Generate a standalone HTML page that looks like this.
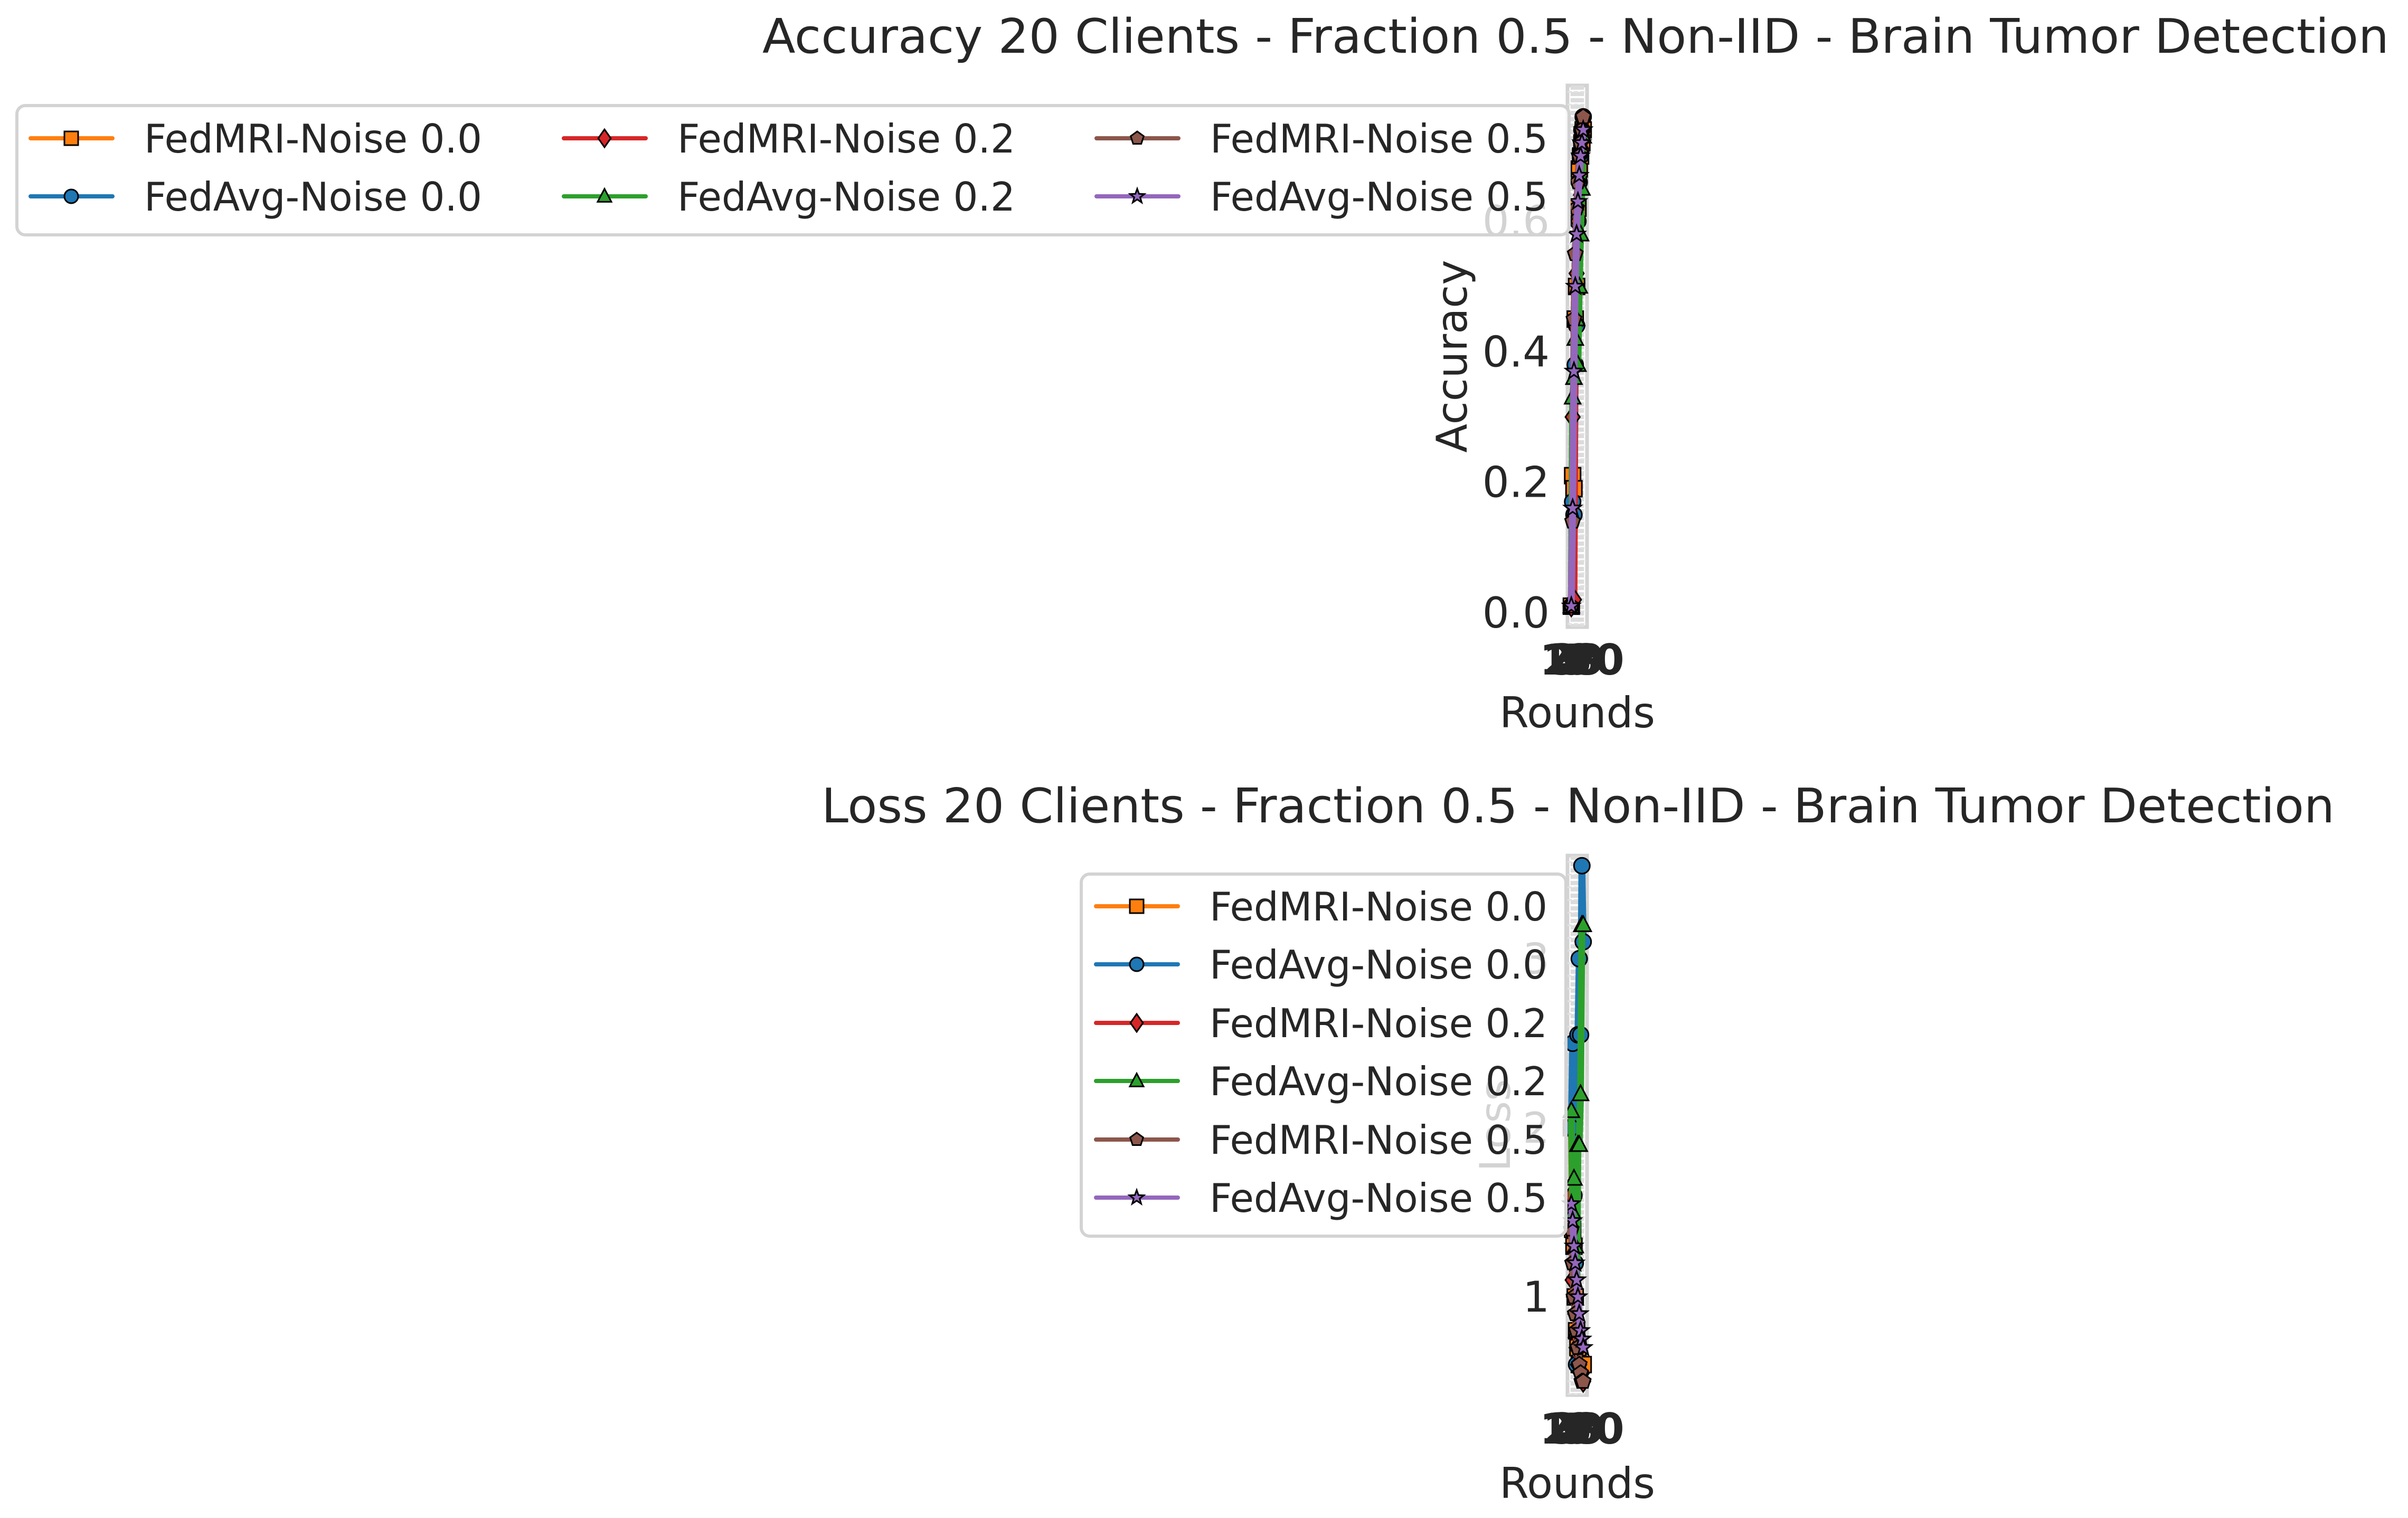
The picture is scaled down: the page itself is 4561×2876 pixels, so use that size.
<!DOCTYPE html>
<html><head><meta charset="utf-8"><style>
html,body{margin:0;padding:0;background:#fff}
svg{display:block}
text{font-family:"DejaVu Sans","Liberation Sans",sans-serif;fill:#262626}
</style></head><body>
<svg id="fig" width="4561" height="2876" viewBox="0 0 4561 2876" xmlns="http://www.w3.org/2000/svg">
<rect width="4561" height="2876" fill="#fff"/>
<g id="accTop"></g>
<g id="lossBot"></g>
</svg>
<script>
const rounds = [1,2,3,4,5,6,7,8,9,10];
const seriesNames = ["FedMRI-Noise 0.0","FedAvg-Noise 0.0","FedMRI-Noise 0.2","FedAvg-Noise 0.2","FedMRI-Noise 0.5","FedAvg-Noise 0.5"];
const accFedMRI00 = [0.01,0.21,0.19,0.45,0.50,0.62,0.68,0.70,0.72,0.74];
const accFedAvg00 = [0.01,0.17,0.15,0.38,0.44,0.60,0.66,0.70,0.74,0.76];
const accFedMRI02 = [0.01,0.30,0.02,0.44,0.52,0.60,0.66,0.70,0.71,0.73];
const accFedAvg02 = [0.01,0.33,0.36,0.42,0.45,0.38,0.50,0.58,0.65,0.73];
const accFedMRI05 = [0.01,0.14,0.45,0.55,0.62,0.66,0.70,0.72,0.74,0.76];
const accFedAvg05 = [0.01,0.16,0.37,0.50,0.58,0.63,0.67,0.70,0.72,0.74];
const lossFedMRI00 = [2.0,1.4,1.3,1.0,0.8,0.7,0.6,0.6,0.6,0.6];
const lossFedAvg00 = [2.0,2.5,1.6,1.2,0.6,2.55,3.0,2.55,3.55,3.1];
const lossFedMRI02 = [1.6,1.1,1.0,0.9,0.7,0.6,0.6,0.55,0.55,0.5];
const lossFedAvg02 = [2.1,1.5,1.7,1.3,0.8,1.9,1.9,2.2,3.2,3.2];
const lossFedMRI05 = [1.4,1.2,1.0,0.9,0.8,0.7,0.6,0.55,0.5,0.5];
const lossFedAvg05 = [1.55,1.45,1.3,1.2,1.1,1.0,0.9,0.8,0.75,0.7];
const accTicks = [0.0,0.2,0.4,0.6];
const accTickLabels = ["0.0","0.2","0.4","0.6"];
const lossTicks = [1,2,3];
const lossTickLabels = ["1","2","3"];
const xTickLabels = ["1","2","3","4","5","6","7","8","9","10"];

const colors = ["#ff7f0e","#1f77b4","#d62728","#2ca02c","#8c564b","#9467bd"];
const markers = ["s","o","D","^","p","*"];
const NS="http://www.w3.org/2000/svg";
function mk(tag, attrs, parent){const e=document.createElementNS(NS,tag);for(const k in attrs)e.setAttribute(k,attrs[k]);parent.appendChild(e);return e;}

function marker(g,type,cx,cy,r,color){
  let e;
  if(type==="s"){e=mk("rect",{x:cx-r,y:cy-r,width:2*r,height:2*r},g);}
  else if(type==="o"){e=mk("circle",{cx:cx,cy:cy,r:r},g);}
  else if(type==="D"){const s=r*1.3;e=mk("polygon",{points:`${cx},${cy-s} ${cx+s*0.7},${cy} ${cx},${cy+s} ${cx-s*0.7},${cy}`},g);}
  else if(type==="^"){e=mk("polygon",{points:`${cx},${cy-r*1.1} ${cx+r},${cy+r*0.8} ${cx-r},${cy+r*0.8}`},g);}
  else if(type==="p"){let p=[];for(let i=0;i<5;i++){const a=-Math.PI/2+i*2*Math.PI/5;p.push((cx+r*Math.cos(a))+","+(cy+r*Math.sin(a)));}e=mk("polygon",{points:p.join(" ")},g);}
  else {let p=[];for(let i=0;i<10;i++){const a=-Math.PI/2+i*Math.PI/5;const rr=i%2?r*0.45:r*1.1;p.push((cx+rr*Math.cos(a))+","+(cy+rr*Math.sin(a)));}e=mk("polygon",{points:p.join(" ")},g);}
  e.setAttribute("fill",color);e.setAttribute("stroke","#000");e.setAttribute("stroke-width","3");
  
  
  return e;
}

function drawChart(g, cfg){
  const {L,R,T,B,ymin,ymax,data,ticks,tickLabels,title,titleY,titleX1,titleX2,ylabel,ylabelX,xTickY,xLabelY,mr,lw} = cfg;
  const xmin=0.5,xmax=rounds.length+0.5;
  const xs=v=>L+6+(v-xmin)/(xmax-xmin)*(R-L-12);
  const ys=v=>B-(v-ymin)/(ymax-ymin)*(B-T);
  const t=mk("text",{x:titleX1,y:titleY,"font-size":90,textLength:titleX2-titleX1,lengthAdjust:"spacingAndGlyphs"},g);
  t.textContent=title;
  
  
  const bg=mk("rect",{x:L,y:T,width:R-L,height:B-T,fill:"#fff",stroke:"#d3d3d3","stroke-width":7},g);
  
  
  for(let i=0;i<rounds.length;i++){
    const gl=mk("line",{x1:xs(rounds[i]),x2:xs(rounds[i]),y1:T,y2:B,stroke:"#dcdcdc","stroke-width":3,"stroke-dasharray":"8 4"},g);
    
    
  }
  for(let y=T+12;y<B;y+=24){
    const gl=mk("line",{x1:L,x2:R,y1:y,y2:y,stroke:"#e2e2e2","stroke-width":3,"stroke-dasharray":"8 4"},g);
    
    
  }
  for(let i=0;i<ticks.length;i++){
    const tt=mk("text",{x:L-34,y:ys(ticks[i])+28,"font-size":80,"text-anchor":"end"},g);
    tt.textContent=tickLabels[i];
    
    
  }
  for(let i=0;i<rounds.length;i++){
    const tx=L-25+(i/(rounds.length-1))*(R-L+40);
    const tt=mk("text",{x:tx,y:xTickY,"font-size":80,"text-anchor":"middle","font-weight":"bold"},g);
    tt.textContent=xTickLabels[i];
    
    
  }
  const xl=mk("text",{x:(L+R)/2,y:xLabelY,"font-size":80,"text-anchor":"middle"},g);
  xl.textContent="Rounds";
  
  
  const yl=mk("text",{x:0,y:0,"font-size":80,"text-anchor":"middle",transform:`translate(${ylabelX},${(T+B)/2}) rotate(-90)`},g);
  yl.textContent=ylabel;
  
  
  for(let s=0;s<data.length;s++){
    const sg=mk("g",{},g);
    
    
    const pts=data[s].map((v,i)=>xs(rounds[i])+","+ys(v)).join(" ");
    const pl=mk("polyline",{points:pts,fill:"none",stroke:colors[s],"stroke-width":lw,"stroke-linejoin":"round"},sg);
    
    
    data[s].forEach((v,i)=>marker(sg,markers[s],xs(rounds[i]),ys(v),mr,colors[s]));
  }
}

function drawLegend(g, box, entries){
  const lg=mk("g",{},g);
  
  
  const r=mk("rect",{x:box.x,y:box.y,width:box.w,height:box.h,rx:16,fill:"#fff","fill-opacity":0.8,stroke:"#d3d3d3","stroke-width":6},lg);
  
  
  entries.forEach(en=>{
    const eg=mk("g",{},lg);
    
    
    mk("line",{x1:en.x,x2:en.x+155,y1:en.y,y2:en.y,stroke:colors[en.s],"stroke-width":8,"stroke-linecap":"round"},eg);
    marker(eg,markers[en.s],en.x+77,en.y,13,colors[en.s]);
    const t=mk("text",{x:en.x+215,y:en.y+27,"font-size":75,textLength:640,lengthAdjust:"spacingAndGlyphs"},eg);
    t.textContent=seriesNames[en.s];
  });
}

const accG=document.getElementById("accTop"), lossG=document.getElementById("lossBot");
drawChart(accG,{L:2969,R:3006,T:162,B:1188,ymin:-0.022,ymax:0.808,mr:15,lw:13,
  data:[accFedMRI00,accFedAvg00,accFedMRI02,accFedAvg02,accFedMRI05,accFedAvg05],
  ticks:accTicks,tickLabels:accTickLabels,title:"Accuracy 20 Clients - Fraction 0.5 - Non-IID - Brain Tumor Detection",
  titleY:100,titleX1:1444,titleX2:4525,ylabel:"Accuracy",ylabelX:2778,xTickY:1278,xLabelY:1378});
drawLegend(accG,{x:32,y:200,w:2940,h:245},[
  {s:0,x:58,y:262},{s:1,x:58,y:372},{s:2,x:1068,y:262},{s:3,x:1068,y:372},{s:4,x:2077,y:262},{s:5,x:2077,y:372}]);
drawChart(lossG,{L:2969,R:3006,T:1621,B:2643,ymin:0.42,ymax:3.61,mr:15,lw:13,
  data:[lossFedMRI00,lossFedAvg00,lossFedMRI02,lossFedAvg02,lossFedMRI05,lossFedAvg05],
  ticks:lossTicks,tickLabels:lossTickLabels,title:"Loss 20 Clients - Fraction 0.5 - Non-IID - Brain Tumor Detection",
  titleY:1558,titleX1:1556,titleX2:4422,ylabel:"Loss",ylabelX:2860,xTickY:2735,xLabelY:2838});
drawLegend(lossG,{x:2048,y:1656,w:918,h:686},[
  {s:0,x:2076,y:1717},{s:1,x:2076,y:1827},{s:2,x:2076,y:1938},{s:3,x:2076,y:2048},{s:4,x:2076,y:2159},{s:5,x:2076,y:2269}]);
</script>
</body></html>
